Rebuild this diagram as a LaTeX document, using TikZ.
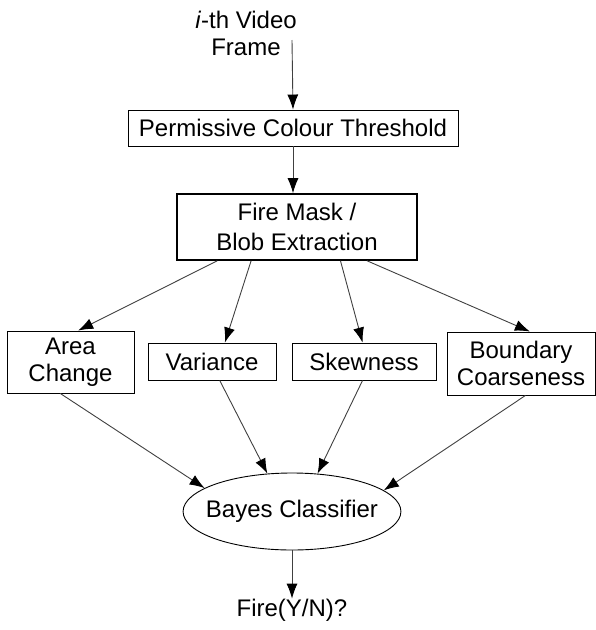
\documentclass[tikz,border=0pt]{standalone}
\usepackage{fontspec}
\setmainfont{Liberation Sans}
\usetikzlibrary{arrows.meta,shapes.geometric,calc}
\begin{document}
\begin{tikzpicture}[x=1pt,y=-1pt,
  txt/.style={font=\fontsize{24}{27}\selectfont, inner sep=0pt, align=center},
  box/.style={txt, draw, line width=0.9pt, rectangle},
  conn/.style={draw=black!75, line width=0.9pt, -{Latex[length=15pt,width=11pt,color=black]}},
]
\useasboundingbox (0,0) rectangle (596,630);
\node[txt] (src) at (246,33) {\textit{i}-th Video\\Frame};
\coordinate (in) at (292,40);
\node[box, minimum width=330pt, minimum height=36pt] (pct) at (293,128) {Permissive Colour Threshold};
\node[box, line width=1.6pt, minimum width=240pt, minimum height=66pt, font=\fontsize{24}{30}\selectfont] (fm) at (297,227) {Fire Mask /\\Blob Extraction};
\node[box, minimum width=127pt, minimum height=62pt] (ac) at (70.5,362) {Area\\Change};
\node[box, minimum width=128pt, minimum height=37pt] (va) at (212,361.5) {Variance};
\node[box, minimum width=144pt, minimum height=37pt] (sk) at (364,361.5) {Skewness};
\node[box, minimum width=148pt, minimum height=63pt] (bd) at (521,363.5) {Boundary\\Coarseness};
\node[txt, draw, line width=0.9pt, ellipse, inner xsep=-9pt, inner ysep=0pt, minimum width=216pt, minimum height=77pt] (bc) at (292,511.5) {Bayes Classifier};
\node[txt] (out) at (292,610) {Fire(Y/N)?};

\draw[conn] (in) -- (pct.north);
\draw[conn] (pct.south) -- (fm.north -| pct.south);
\draw[conn] ($(fm.south west)!0.17!(fm.south east)$) -- ($(ac.north west)!0.56!(ac.north east)$);
\draw[conn] ($(fm.south west)!0.31!(fm.south east)$) -- ($(va.north west)!0.60!(va.north east)$);
\draw[conn] ($(fm.south west)!0.68!(fm.south east)$) -- ($(sk.north west)!0.49!(sk.north east)$);
\draw[conn] ($(fm.south west)!0.79!(fm.south east)$) -- ($(bd.north west)!0.56!(bd.north east)$);
\draw[conn] ($(ac.south west)!0.42!(ac.south east)$) -- (bc.165.7);
\draw[conn] ($(va.south west)!0.56!(va.south east)$) -- (bc.123.3);
\draw[conn] ($(sk.south west)!0.49!(sk.south east)$) -- (bc.56.7);
\draw[conn] ($(bd.south west)!0.53!(bd.south east)$) -- (bc.13.6);
\draw[conn] (bc.south) -- (out.north);
\end{tikzpicture}
\end{document}
